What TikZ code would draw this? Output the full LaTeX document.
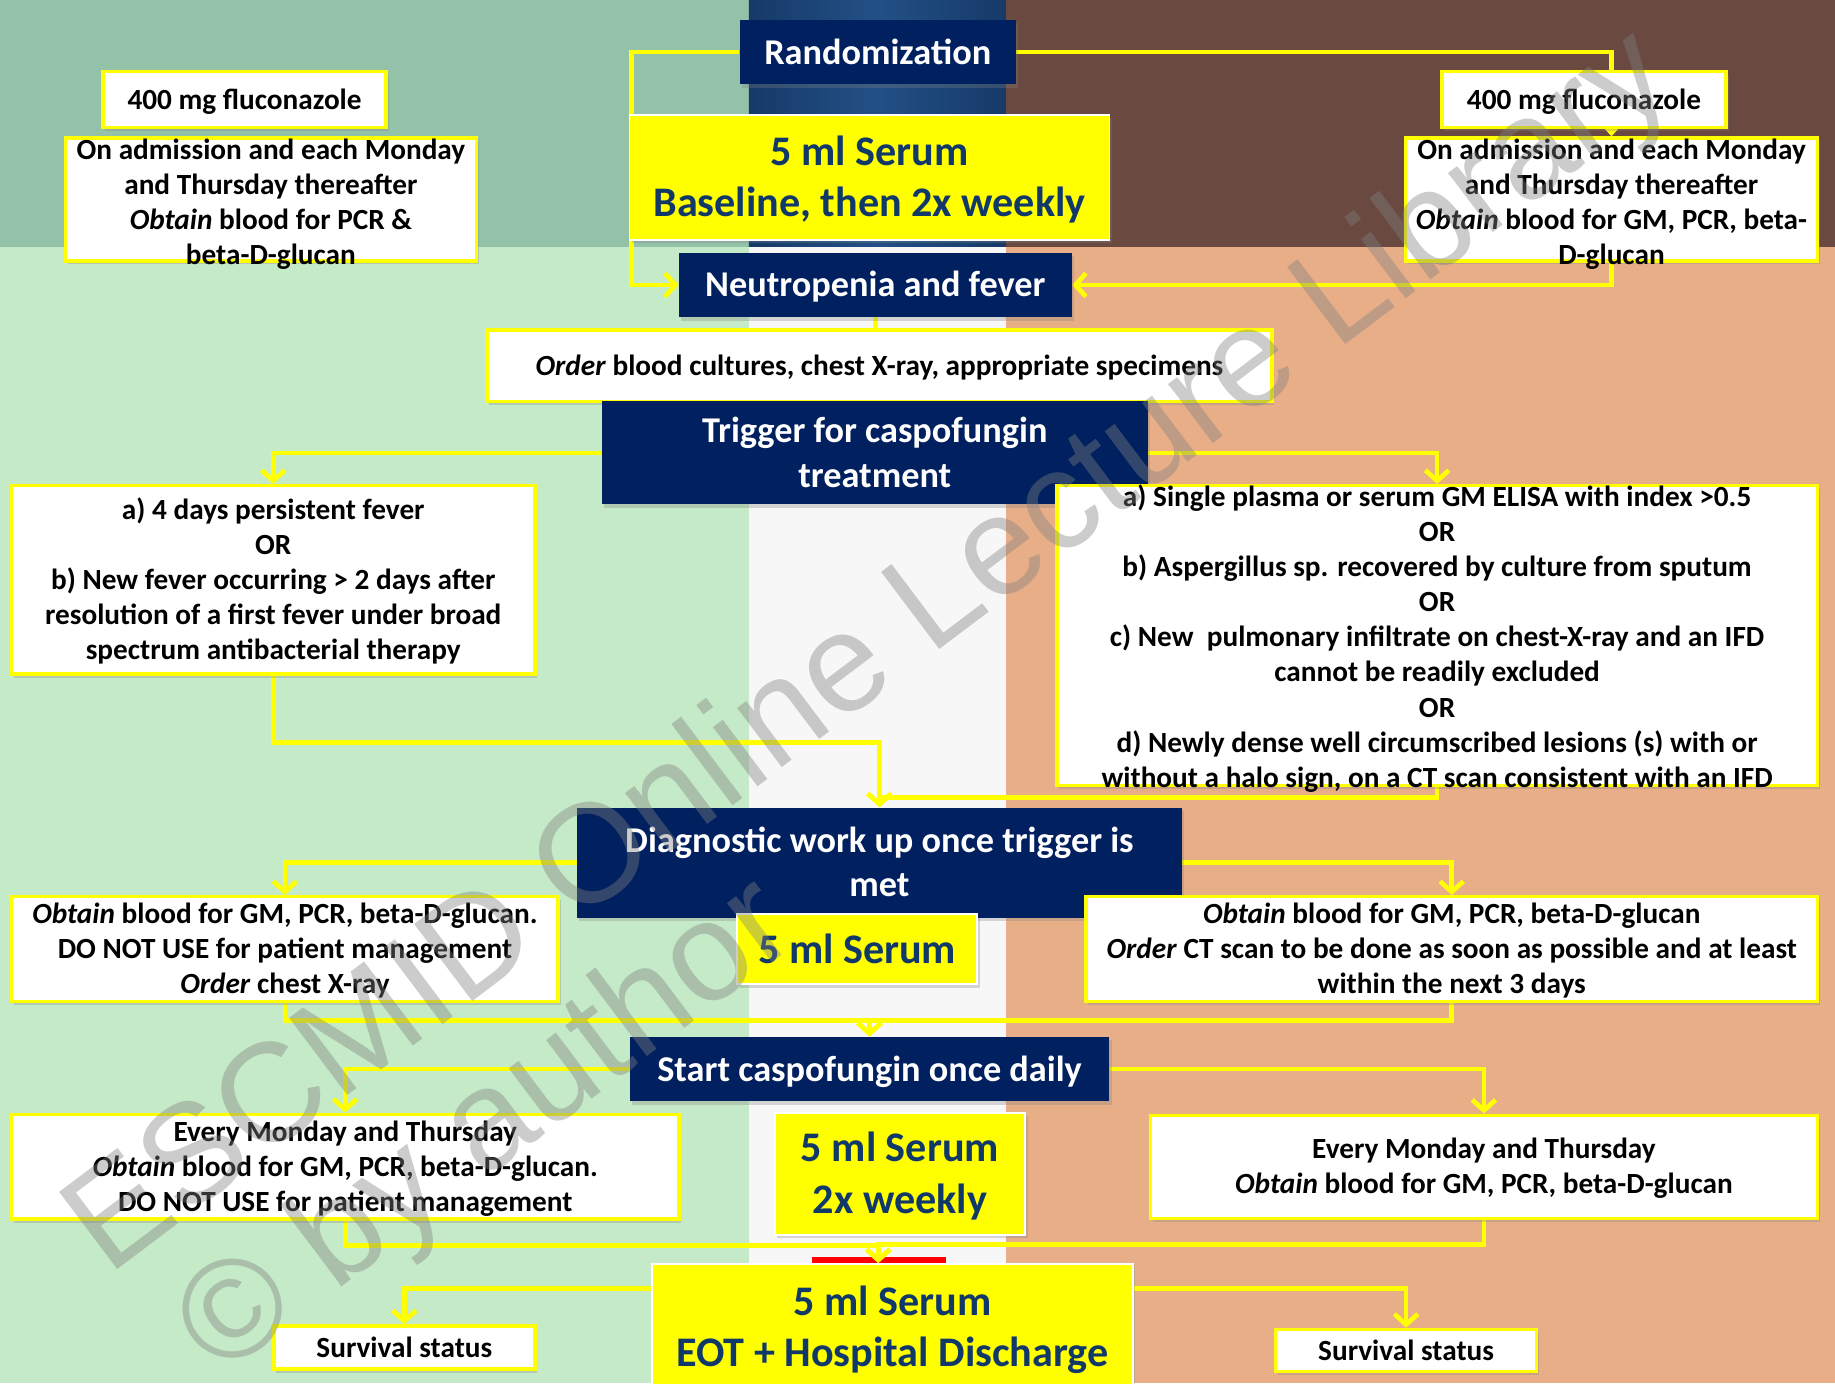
\documentclass[tikz,border=0pt]{standalone}
\usepackage{fontspec}
\setmainfont{Carlito}
\newfontfamily\wmfont{Liberation Sans}
\usetikzlibrary{arrows.meta,shadows,calc}
\definecolor{navy}{RGB}{0,32,96}
\definecolor{yel}{RGB}{255,255,0}
\definecolor{serumblue}{RGB}{16,56,104}
\definecolor{bgLT}{RGB}{147,194,169}
\definecolor{bgLB}{RGB}{197,234,199}
\definecolor{bgCTa}{RGB}{22,58,104}
\definecolor{bgCTb}{RGB}{34,80,134}
\definecolor{bgCB}{RGB}{247,247,247}
\definecolor{bgRT}{RGB}{106,74,64}
\definecolor{bgRB}{RGB}{232,174,136}
\newcommand\smalltext{\fontsize{25}{30}\selectfont\bfseries}
\newcommand\navytext{\fontsize{31}{38}\selectfont\bfseries}
\newcommand\serumtext{\fontsize{36}{44}\selectfont\bfseries}
\newcommand\wmtext{\wmfont\fontsize{120}{120}\selectfont}
% struts at the start of the first line and at the end of the last line
\newcommand\bs{\rule{0pt}{0.92em}}
\newcommand\es{\rule[-0.26em]{0pt}{0.26em}}
\pgfdeclarelayer{bg}
\pgfdeclarelayer{mid}
\pgfdeclarelayer{top}
\pgfsetlayers{bg,mid,main,top}
\begin{document}
\begin{tikzpicture}[x=1pt,y=-1pt,
  shad/.style={drop shadow={shadow xshift=2pt,shadow yshift=-3pt,opacity=0.3}},
  navybox/.style={shad,fill=navy,text=white,font=\navytext,align=center,inner sep=0pt},
  serumbox/.style={shad,fill=yel,draw=white,line width=1.5pt,text=serumblue,font=\serumtext,align=center,inner sep=0pt},
  infobox/.style={shad,fill=white,draw=yel,line width=3pt,font=\smalltext,align=center,inner sep=0pt},
  infotext/.style={font=\smalltext,align=center,inner sep=0pt},
  conn/.style={draw=yel,line width=4pt},
  arr/.style={conn,-{Straight Barb[length=9pt,width=20pt]}},
  wm/.style={font=\wmtext,text=gray,opacity=0.4,rotate=37,inner sep=0pt}
]
\useasboundingbox (0,0) rectangle (1568,1182);
\begin{pgfonlayer}{bg}
\fill[bgLT] (0,0) rectangle (640,211);
\fill[bgLB] (0,211) rectangle (640,1182);
\shade[left color=bgCTa,right color=bgCTa,middle color=bgCTb] (640,0) rectangle (860,211);
\fill[bgCB] (640,211) rectangle (860,1182);
\fill[bgRT] (860,0) rectangle (1568,211);
\fill[bgRB] (860,211) rectangle (1568,1182);
\fill[red] (694,1074) rectangle (808,1081);
\end{pgfonlayer}

% top
\node[navybox,minimum width=236pt,minimum height=55pt] (rand) at (750,44.5) {\bs Randomization\es};
\node[serumbox,minimum width=410pt,minimum height=107pt] (serum1) at (743,151.5) {\bs 5 ml Serum\\Baseline, then 2x weekly\es};
\node[navybox,minimum width=336pt,minimum height=55pt] (neut) at (748,243.5) {\bs Neutropenia and fever\es};
\node[infobox,minimum width=671pt,minimum height=61pt] (order) at (751.5,312.5) {\bs\textit{Order} blood cultures, chest X-ray, appropriate specimens\es};
\node[navybox,minimum width=467pt,minimum height=88pt] (trig) at (747.5,387) {\bs Trigger for caspofungin\\treatment\es};

\node[infobox,minimum width=242pt,minimum height=48pt] (flucL) at (209,85) {\bs 400 mg fluconazole\es};
\node[infobox,minimum width=351pt,minimum height=105pt] (admL) at (231.5,170.5) {};
\node[infotext] (admLt) at (231.5,173) {\bs On admission and each Monday\\and Thursday thereafter\\\textit{Obtain} blood for PCR \&\\beta-D-glucan\es};
\node[infobox,minimum width=243pt,minimum height=48pt] (flucR) at (1353.5,85) {\bs 400 mg fluconazole\es};
\node[infobox,minimum width=352pt,minimum height=105pt] (admR) at (1377,170.5) {};
\node[infotext] (admRt) at (1377,173) {\bs On admission and each Monday\\and Thursday thereafter\\\textit{Obtain} blood for GM, PCR, beta-\\D-glucan\es};

% triggers
\node[infobox,minimum width=447pt,minimum height=161pt] (critL) at (233.5,495.5) {\bs a) 4 days persistent fever\\OR\\b) New fever occurring > 2 days after\\resolution of a first fever under broad\\spectrum antibacterial therapy\es};
\node[infobox,minimum width=650pt,minimum height=256pt] (critR) at (1228,543) {};
\node[infotext] (critRt) at (1228,544.5) {\bs a) Single plasma or serum GM ELISA with index >0.5\\OR\\b) Aspergillus sp. recovered by culture from sputum\\OR\\c) New~~pulmonary infiltrate on chest-X-ray and an IFD\\cannot be readily excluded\\OR\\d) Newly dense well circumscribed lesions (s) with or\\without a halo sign, on a CT scan consistent with an IFD\es};

% diagnostic
\node[navybox,minimum width=517pt,minimum height=94pt] (diag) at (751.5,737) {\bs Diagnostic work up once trigger is\\met\es};
\node[serumbox,minimum width=205pt,minimum height=60pt] (serum2) at (732.5,811) {\bs 5 ml Serum\es};
\node[infobox,minimum width=467pt,minimum height=88pt] (obtL) at (243.5,811) {\bs\textit{Obtain} blood for GM, PCR, beta-D-glucan.\\DO NOT USE for patient management\\\textit{Order} chest X-ray\es};
\node[infobox,minimum width=625pt,minimum height=88pt] (obtR) at (1240.5,811) {\bs\textit{Obtain} blood for GM, PCR, beta-D-glucan\\\textit{Order} CT scan to be done as soon as possible and at least\\within the next 3 days\es};

% treatment
\node[navybox,minimum width=410pt,minimum height=55pt] (start) at (743,913.5) {\bs Start caspofungin once daily\es};
\node[infobox,minimum width=570pt,minimum height=88pt] (monL) at (295,997) {\bs Every Monday and Thursday\\\textit{Obtain} blood for GM, PCR, beta-D-glucan.\\DO NOT USE for patient management\es};
\node[serumbox,minimum width=214pt,minimum height=104pt] (serum3) at (769,1003) {\bs 5 ml Serum\\2x weekly\es};
\node[infobox,minimum width=570pt,minimum height=88pt] (monR) at (1268,997) {\bs Every Monday and Thursday\\\textit{Obtain} blood for GM, PCR, beta-D-glucan\es};

% end
\node[serumbox,minimum width=411pt,minimum height=108pt] (eot) at (762.5,1134) {\bs 5 ml Serum\\EOT + Hospital Discharge\es};
\node[infobox,minimum width=223pt,minimum height=37pt] (survL) at (345.5,1151.5) {\bs Survival status\es};
\node[infobox,minimum width=223pt,minimum height=36pt] (survR) at (1201.5,1154) {\bs Survival status\es};

\begin{pgfonlayer}{mid}
\draw[arr] (rand.west) -- ++(-92,0) |- (neut.west);
\draw[conn] (rand.east) -| (admR.north |- flucR.north);
\draw[conn,-{Triangle[length=8pt,width=14pt]}] (admR.north |- flucR.south) -- (admR.north);
\draw[arr] (admR.south) |- (neut.east);
\draw[conn] (neut.south) -- (neut.south |- order.north);
\draw[arr] (trig.west) -| (critL.north);
\draw[arr] (trig.east) -| (critR.north);
\draw[arr] (critL.south) -- ++(0,57) -| (diag.north);
\draw[arr] (critR.south) -- ++(0,9) -| (diag.north);
\draw[arr] (diag.west) -| (obtL.north);
\draw[arr] (diag.east) -| (obtR.north);
\draw[arr] (obtL.south) -- ++(0,15) -| (start.north);
\draw[arr] (obtR.south) -- ++(0,15) -| (start.north);
\draw[arr] (start.west) -| (monL.north);
\draw[arr] (start.east) -| (monR.north);
\coordinate (eotin) at ([xshift=-12pt]eot.north);
\draw[arr] (monL.south) -- ++(0,21) -| (eotin);
\draw[arr] (monR.south) -- ++(0,21) -| (eotin);
\draw[arr] ([yshift=-22pt]eot.north west) -| (survL.north);
\draw[arr] ([yshift=-22pt]eot.north east) -| (survR.north);
\end{pgfonlayer}

\begin{pgfonlayer}{top}
\node[wm] (wm1) at (745,560) {ESCMID Online Lecture Library};
\node[wm] (wm2) at (418,966) {© by author};
\end{pgfonlayer}
\end{tikzpicture}
\end{document}
